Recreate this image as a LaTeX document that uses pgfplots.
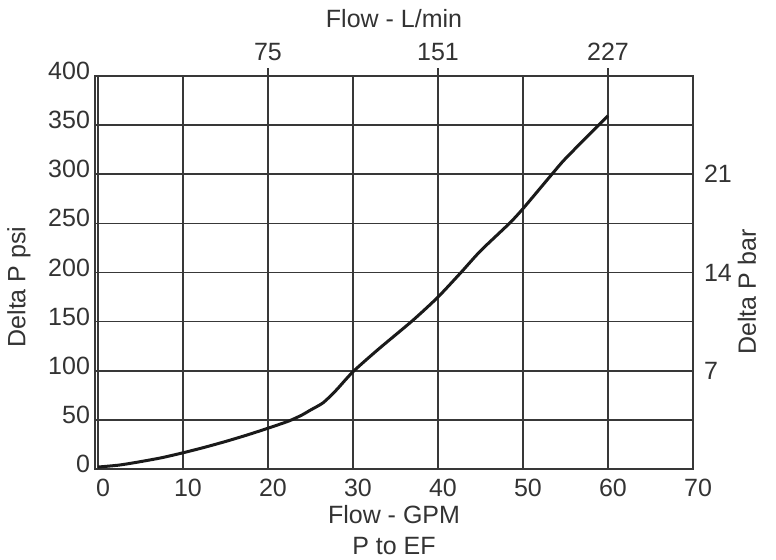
\documentclass[border=0pt]{standalone}
\usepackage{fontspec}
\setmainfont{Liberation Sans}
\usepackage{pgfplots}
\pgfplotsset{compat=1.18}
\definecolor{txt}{HTML}{333333}
\definecolor{gridc}{HTML}{383838}
\definecolor{curve}{HTML}{1A1A1A}
\begin{document}
\begin{tikzpicture}
\useasboundingbox (-47.5pt,-45pt) rectangle (340.5pt,234.5pt);
\pgfplotsset{
  common/.style={
    scale only axis, width=299pt, height=196.5pt,
    at={(0,0)}, anchor=south west,
    xmin=-0.35, xmax=70, ymin=0, ymax=400,
    axis line style={gridc, line width=0.8pt},
    tick label style={font=\fontsize{12.5}{15}\selectfont, text=txt},
    label style={font=\fontsize{12.5}{15.5}\selectfont, text=txt, inner sep=0pt},
    /pgf/number format/assume math mode=true,
  }
}
\begin{axis}[common,
  xtick={0,10,...,70}, ytick={0,50,...,400},
  xtick pos=bottom, ytick pos=left,
  major tick length=0pt,
  grid=major, major grid style={gridc, line width=0.8pt},
  xticklabel style={xshift=2.5pt, yshift=-1.5pt},
  yticklabel style={xshift=1pt, yshift=2.5pt},
  xlabel={Flow - GPM\\P to EF},
  xlabel style={at={(axis description cs:0.5,-0.1560)}, anchor=center, align=center},
  ylabel={Delta P psi},
  ylabel style={at={(axis description cs:-0.1271,0.4631)}, anchor=center},
]
\addplot[curve, line width=1.5pt, smooth, tension=0.4] coordinates {
 (0,2) (2.5,4) (5,7.5) (7.5,11.5) (10,16.5) (12.5,22) (15,28) (17.5,34.5)
 (20,41.5) (22.5,49) (24,55) (25,60) (26.5,67.5) (28,80) (30,99) (33,122)
 (37,151) (40,175) (42.7,200) (45,222) (48.4,250) (50,265) (53.4,300)
 (55,316) (58.9,350) (60,359.5)
};
\end{axis}
\begin{axis}[common,
  axis x line*=top, axis y line*=right,
  xtick={20,40,60}, xticklabels={75,151,227},
  ytick={100,200,300}, yticklabels={7,14,21},
  xtick style={gridc, line width=0.8pt},
  ytick style={draw=none},
  tick align=outside, major tick length=4pt,
  yticklabel style={xshift=-2pt},
  xlabel={Flow - L/min},
  xlabel style={at={(axis description cs:0.5,1.1455)}, anchor=center},
  ylabel={Delta P bar},
  ylabel style={at={(axis description cs:1.0903,0.4504)}, anchor=center},
]
\end{axis}
\end{tikzpicture}
\end{document}
